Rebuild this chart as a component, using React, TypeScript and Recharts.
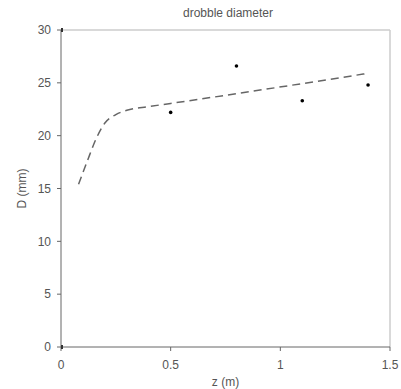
import {
  ComposedChart,
  Line,
  Scatter,
  XAxis,
  YAxis,
  ReferenceLine,
} from "recharts";

// measured drobble diameter
const measuredZ = [0.5, 0.8, 1.1, 1.4];
const measuredD = [22.2, 26.6, 23.3, 24.8];

// fitted curve (dashed)
const fitZ = [0.08, 0.12, 0.16, 0.2, 0.25, 0.3, 0.4, 0.5, 1.4];
const fitD = [15.4, 17.6, 19.7, 21.2, 22.0, 22.4, 22.75, 23.05, 25.9];

// axis end markers
const cornerZ = [0, 0];
const cornerD = [0, 30];

const xTicks = [0, 0.5, 1, 1.5];
const yTicks = [0, 5, 10, 15, 20, 25, 30];

const measured = measuredZ.map((z, i) => ({ z, D: measuredD[i] }));
const fit = fitZ.map((z, i) => ({ z, D: fitD[i] }));
const corners = cornerZ.map((z, i) => ({ z, D: cornerD[i] }));

const FONT = "'Liberation Sans', Arial, sans-serif";
const TICK = { fontSize: 12, fill: "#555", fontFamily: FONT };

const Dot = (props: any) => (
  <circle cx={props.cx} cy={props.cy} r={1.8} fill="#000" />
);

const Corner = (props: any) => (
  <rect x={props.cx - 2} y={props.cy - 2} width={4} height={4} fill="#333" />
);

const App = () => {
  return (
    <div style={{ position: "absolute", left: 0, top: 0, width: 401, height: 389 }}>
      <div
        style={{
          position: "absolute",
          left: 0,
          width: 456,
          top: 6,
          textAlign: "center",
          fontFamily: FONT,
          fontSize: 12,
          color: "#555",
        }}
      >
        drobble diameter
      </div>
      <ComposedChart
        width={401}
        height={389}
        margin={{ top: 30, right: 11, bottom: 0, left: 0 }}
      >
        <XAxis
          dataKey="z"
          type="number"
          domain={[0, 1.5]}
          ticks={xTicks}
          tick={TICK}
          tickSize={4}
          tickMargin={9}
          stroke="#666"
          height={42}
          allowDataOverflow
          label={{
            value: "z (m)",
            position: "insideBottom",
            offset: 3,
            style: TICK,
          }}
        />
        <YAxis
          dataKey="D"
          type="number"
          domain={[0, 30]}
          ticks={yTicks}
          tick={TICK}
          tickSize={4}
          tickMargin={6}
          stroke="#666"
          width={61}
          label={{
            value: "D (mm)",
            angle: -90,
            position: "insideLeft",
            offset: 22,
            style: { ...TICK, textAnchor: "middle" },
          }}
        />
        <ReferenceLine y={30} stroke="#ccc" strokeWidth={1.5} />
        <ReferenceLine x={1.5} stroke="#ccc" strokeWidth={1.5} />
        <Line
          data={fit}
          dataKey="D"
          type="monotone"
          stroke="#666"
          strokeWidth={1.5}
          strokeDasharray="8 5"
          dot={false}
          activeDot={false}
          isAnimationActive={false}
        />
        <Scatter
          data={measured}
          dataKey="D"
          shape={<Dot />}
          isAnimationActive={false}
        />
        <Scatter
          data={corners}
          dataKey="D"
          shape={<Corner />}
          isAnimationActive={false}
        />
      </ComposedChart>
    </div>
  );
};

export default App;
